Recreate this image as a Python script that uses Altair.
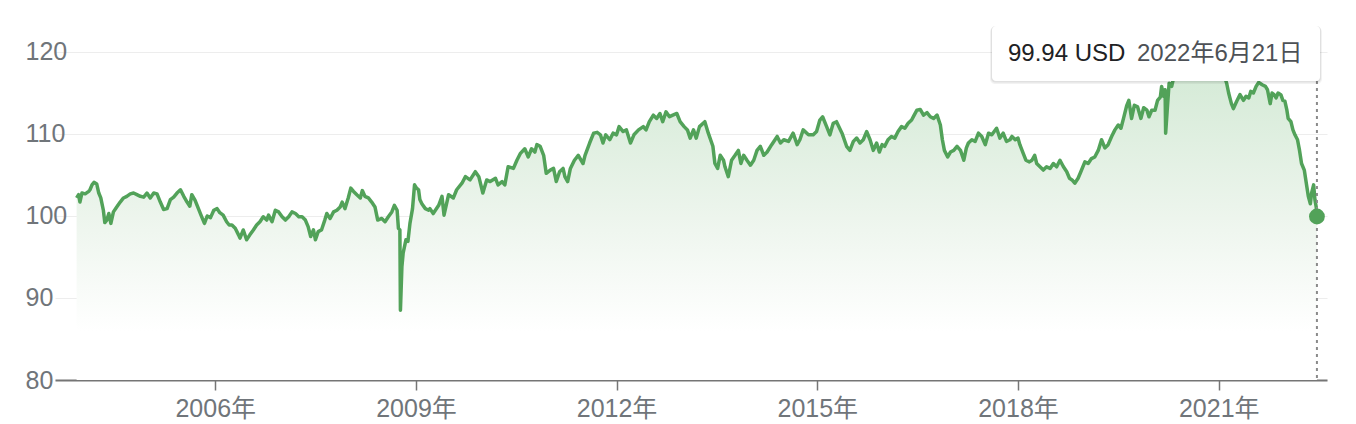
import altair as alt
import pandas as pd

years = [
    2003.93, 2003.96, 2003.98, 2004.01, 2004.06, 2004.11, 2004.13, 2004.16, 2004.19, 2004.23,
    2004.26, 2004.29, 2004.33, 2004.35, 2004.38, 2004.41, 2004.44, 2004.48, 2004.53, 2004.58,
    2004.63, 2004.68, 2004.73, 2004.78, 2004.83, 2004.88, 2004.93, 2004.98, 2005.03, 2005.08,
    2005.13, 2005.18, 2005.23, 2005.28, 2005.33, 2005.38, 2005.43, 2005.48, 2005.53, 2005.58,
    2005.62, 2005.65, 2005.70, 2005.75, 2005.80, 2005.84, 2005.88, 2005.93, 2005.98, 2006.03,
    2006.07, 2006.12, 2006.17, 2006.21, 2006.25, 2006.30, 2006.35, 2006.37, 2006.42, 2006.47,
    2006.52, 2006.57, 2006.62, 2006.67, 2006.72, 2006.77, 2006.80, 2006.85, 2006.90, 2006.95,
    2007.00, 2007.05, 2007.10, 2007.15, 2007.20, 2007.25, 2007.30, 2007.35, 2007.39, 2007.43,
    2007.47, 2007.50, 2007.54, 2007.59, 2007.64, 2007.67, 2007.72, 2007.77, 2007.82, 2007.87,
    2007.90, 2007.94, 2007.99, 2008.03, 2008.07, 2008.12, 2008.17, 2008.20, 2008.24, 2008.29,
    2008.34, 2008.39, 2008.43, 2008.49, 2008.54, 2008.59, 2008.64, 2008.68, 2008.72, 2008.74,
    2008.76, 2008.77, 2008.79, 2008.81, 2008.85, 2008.88, 2008.91, 2008.95, 2008.98, 2009.01,
    2009.04, 2009.06, 2009.09, 2009.14, 2009.19, 2009.21, 2009.26, 2009.34, 2009.39, 2009.42,
    2009.49, 2009.56, 2009.61, 2009.69, 2009.74, 2009.81, 2009.89, 2009.94, 2010.00, 2010.06,
    2010.11, 2010.19, 2010.23, 2010.29, 2010.33, 2010.38, 2010.46, 2010.51, 2010.56, 2010.63,
    2010.68, 2010.73, 2010.78, 2010.81, 2010.86, 2010.91, 2010.95, 2011.01, 2011.06, 2011.10,
    2011.15, 2011.20, 2011.23, 2011.27, 2011.31, 2011.37, 2011.43, 2011.50, 2011.53, 2011.60,
    2011.66, 2011.71, 2011.76, 2011.80, 2011.84, 2011.90, 2011.95, 2012.00, 2012.04, 2012.10,
    2012.15, 2012.21, 2012.26, 2012.33, 2012.40, 2012.44, 2012.49, 2012.55, 2012.60, 2012.65,
    2012.69, 2012.74, 2012.79, 2012.84, 2012.90, 2012.95, 2013.01, 2013.06, 2013.10, 2013.15,
    2013.19, 2013.24, 2013.32, 2013.37, 2013.44, 2013.47, 2013.51, 2013.55, 2013.60, 2013.62,
    2013.67, 2013.72, 2013.77, 2013.82, 2013.86, 2013.90, 2013.95, 2014.00, 2014.05, 2014.10,
    2014.15, 2014.20, 2014.25, 2014.32, 2014.40, 2014.45, 2014.50, 2014.57, 2014.64, 2014.70,
    2014.74, 2014.79, 2014.87, 2014.94, 2014.99, 2015.04, 2015.08, 2015.14, 2015.19, 2015.24,
    2015.29, 2015.37, 2015.44, 2015.49, 2015.54, 2015.59, 2015.64, 2015.69, 2015.74, 2015.79,
    2015.84, 2015.89, 2015.93, 2015.97, 2016.01, 2016.06, 2016.11, 2016.16, 2016.21, 2016.26,
    2016.31, 2016.36, 2016.41, 2016.45, 2016.49, 2016.54, 2016.59, 2016.64, 2016.69, 2016.74,
    2016.79, 2016.84, 2016.87, 2016.90, 2016.95, 2016.99, 2017.04, 2017.09, 2017.14, 2017.19,
    2017.23, 2017.26, 2017.31, 2017.36, 2017.41, 2017.46, 2017.51, 2017.56, 2017.61, 2017.68,
    2017.73, 2017.78, 2017.83, 2017.88, 2017.91, 2017.96, 2018.00, 2018.03, 2018.08, 2018.12,
    2018.17, 2018.21, 2018.25, 2018.28, 2018.33, 2018.38, 2018.43, 2018.48, 2018.53, 2018.58,
    2018.63, 2018.68, 2018.73, 2018.77, 2018.81, 2018.85, 2018.90, 2018.94, 2019.00, 2019.05,
    2019.10, 2019.15, 2019.20, 2019.25, 2019.30, 2019.35, 2019.40, 2019.45, 2019.50, 2019.54,
    2019.58, 2019.63, 2019.66, 2019.70, 2019.74, 2019.79, 2019.84, 2019.88, 2019.93, 2019.96,
    2020.00, 2020.05, 2020.09, 2020.13, 2020.15, 2020.18, 2020.20, 2020.21, 2020.24, 2020.26,
    2020.30, 2020.32, 2020.35, 2020.43, 2020.54, 2020.66, 2020.78, 2020.90, 2021.02, 2021.08,
    2021.12, 2021.15, 2021.19, 2021.22, 2021.27, 2021.32, 2021.37, 2021.41, 2021.45, 2021.48,
    2021.52, 2021.56, 2021.60, 2021.65, 2021.70, 2021.73, 2021.77, 2021.80, 2021.83, 2021.86,
    2021.89, 2021.93, 2021.96, 2021.99, 2022.02, 2022.04, 2022.08, 2022.11, 2022.14, 2022.18,
    2022.21, 2022.24, 2022.28, 2022.31, 2022.34, 2022.37, 2022.39, 2022.42, 2022.44, 2022.46,
    2022.469,
]
prices = [
    102.2, 102.6, 101.7, 102.8, 102.7, 103.0, 103.2, 103.8, 104.1, 103.9,
    102.8, 102.2, 100.7, 99.2, 99.5, 100.3, 99.1, 100.5, 101.1, 101.7,
    102.2, 102.4, 102.7, 102.8, 102.6, 102.4, 102.3, 102.8, 102.2, 102.8,
    102.7, 101.7, 100.8, 100.9, 102.0, 102.3, 102.8, 103.2, 102.4, 101.7,
    101.2, 102.6, 101.9, 100.9, 99.9, 99.1, 100.0, 99.8, 100.7, 100.9,
    100.4, 100.1, 99.3, 98.9, 98.9, 98.5, 97.7, 97.3, 98.3, 97.1,
    97.7, 98.3, 98.9, 99.3, 99.9, 99.5, 100.1, 99.3, 100.7, 100.5,
    99.9, 99.5, 99.9, 100.5, 100.3, 99.9, 99.9, 99.5, 98.7, 97.5,
    98.3, 97.1, 98.1, 98.3, 99.5, 100.3, 99.7, 100.5, 100.7, 101.1,
    101.7, 100.9, 102.2, 103.4, 103.0, 102.6, 102.2, 103.1, 102.4, 102.2,
    101.7, 101.1, 99.5, 99.7, 99.3, 99.9, 100.5, 101.3, 100.7, 98.5,
    98.3, 88.5, 93.8, 95.5, 97.1, 96.9, 99.1, 100.9, 103.8, 103.4,
    103.2, 102.0, 101.5, 100.9, 100.7, 100.9, 100.3, 101.3, 102.4, 100.1,
    102.6, 102.2, 103.2, 104.0, 104.8, 104.4, 105.4, 104.8, 102.8, 104.4,
    104.2, 104.6, 103.8, 104.2, 103.8, 106.0, 105.8, 106.8, 107.6, 108.2,
    107.2, 108.2, 107.8, 108.7, 108.5, 107.4, 105.2, 105.6, 105.8, 104.2,
    105.4, 105.8, 104.8, 104.2, 105.8, 106.8, 107.4, 106.4, 107.4, 108.9,
    110.1, 110.2, 109.9, 108.9, 109.9, 109.3, 110.1, 109.9, 110.9, 110.3,
    110.5, 108.9, 109.9, 110.5, 110.9, 110.5, 111.5, 112.3, 111.9, 112.5,
    111.5, 112.7, 112.1, 112.3, 112.5, 111.5, 110.9, 110.5, 109.5, 110.5,
    109.5, 110.9, 111.5, 110.1, 108.5, 106.4, 105.8, 107.4, 106.8, 106.0,
    104.8, 106.8, 107.4, 108.0, 106.4, 107.4, 106.8, 106.2, 106.8, 108.0,
    108.5, 107.4, 107.8, 108.7, 109.7, 108.9, 109.3, 109.1, 110.1, 108.7,
    109.3, 110.5, 109.9, 109.9, 110.3, 111.7, 112.1, 110.9, 109.9, 111.3,
    111.5, 110.1, 108.5, 108.0, 109.1, 109.5, 108.9, 109.3, 110.3, 109.3,
    108.0, 108.9, 107.8, 108.7, 108.5, 109.3, 109.7, 109.5, 110.3, 110.9,
    110.7, 111.3, 111.7, 112.3, 112.9, 113.0, 112.3, 112.6, 112.1, 111.9,
    112.3, 111.1, 109.3, 108.0, 107.2, 107.8, 108.0, 108.5, 108.0, 106.8,
    108.3, 108.9, 109.3, 109.1, 110.1, 109.7, 108.7, 110.1, 109.9, 110.7,
    109.5, 110.1, 109.1, 109.3, 109.7, 109.3, 109.5, 108.7, 107.6, 106.8,
    106.6, 106.8, 107.4, 106.4, 106.0, 105.6, 106.0, 105.8, 106.4, 106.0,
    106.8, 106.0, 105.4, 104.6, 104.4, 104.0, 104.6, 105.4, 106.6, 106.4,
    107.0, 107.2, 108.0, 109.3, 108.3, 108.7, 109.7, 110.5, 111.1, 110.7,
    111.9, 113.5, 114.1, 111.9, 113.5, 113.3, 111.9, 113.2, 112.9, 112.1,
    112.9, 112.9, 114.1, 114.5, 115.8, 114.6, 115.4, 110.1, 113.7, 116.2,
    115.8, 116.6, 117.5, 118.5, 119.2, 118.6, 119.4, 118.8, 117.8, 117.2,
    116.2, 115.0, 113.7, 113.1, 114.0, 114.8, 114.1, 114.6, 114.4, 115.2,
    115.0, 115.8, 116.3, 116.0, 115.8, 115.4, 113.7, 115.0, 114.8, 114.4,
    115.0, 114.8, 114.1, 114.0, 112.9, 111.9, 111.5, 110.5, 109.9, 109.3,
    108.0, 106.4, 105.6, 104.0, 102.4, 101.5, 102.8, 103.8, 102.0, 101.1,
    99.94,
]
y_ticks = [80, 90, 100, 110, 120]
x_tick_years = [2006, 2009, 2012, 2015, 2018, 2021]
tooltip_value = f"{prices[-1]:.2f} USD"
tooltip_date = "2022年6月21日"


def to_ts(y):
    yr = int(y)
    start = pd.Timestamp(year=yr, month=1, day=1)
    end = pd.Timestamp(year=yr + 1, month=1, day=1)
    return (start + (end - start) * (y - yr)).normalize()


df = pd.DataFrame({"date": [to_ts(y) for y in years], "price": prices})
last = df.tail(1)

GREEN = "#52a259"
FONT = "Arial, 'Liberation Sans', 'Noto Sans CJK JP', sans-serif"

x_enc = alt.X(
    "date:T",
    scale=alt.Scale(domain=[alt.DateTime(year=2003, month=8, date=10),
                            alt.DateTime(year=2022, month=8, date=15)]),
    axis=alt.Axis(
        values=[alt.DateTime(year=y, month=1, date=1) for y in x_tick_years],
        format="%Y年", title=None, grid=False,
        domainColor="#757575", domainWidth=2,
        tickColor="#757575", tickSize=10, tickWidth=1.5,
        labelFontSize=25, labelColor="#70757a", labelFont=FONT, labelPadding=6,
    ),
)
y_enc = alt.Y(
    "price:Q",
    scale=alt.Scale(domain=[80, 123.17], nice=False, zero=False),
    axis=alt.Axis(
        values=y_ticks, title=None, domain=False, ticks=False, tickSize=0,
        labelAlign="left", labelPadding=30, labelFontSize=25,
        labelColor="#70757a", labelFont=FONT, labelBaseline="middle",
        gridColor="#ededed", gridWidth=1,
    ),
)

area = alt.Chart(df).mark_area(
    color=alt.Gradient(
        gradient="linear",
        stops=[alt.GradientStop(color="#d2e9d4", offset=0),
               alt.GradientStop(color="#edf5ed", offset=0.5),
               alt.GradientStop(color="#ffffff", offset=0.85)],
        x1=1, x2=1, y1=0, y2=1,
    )
).encode(x=x_enc, y=y_enc, y2=alt.datum(80))

line = alt.Chart(df).mark_line(color=GREEN, strokeWidth=3.5, strokeJoin="round").encode(
    x="date:T", y="price:Q")

rule = alt.Chart(last).mark_rule(color="#8a8a8a", strokeDash=[3, 4], strokeWidth=2).encode(
    x="date:T", y=alt.value(55), y2=alt.value(354))

dot = alt.Chart(last).mark_point(filled=True, shape="circle", size=250, color=GREEN, opacity=1).encode(
    x="date:T", y="price:Q")

box_df = pd.DataFrame({"v": [tooltip_value], "d": [tooltip_date]})
shadow1 = alt.Chart(box_df).mark_rect(color="#000000", opacity=0.05, cornerRadius=5).encode(
    x=alt.value(935), x2=alt.value(1267), y=alt.value(1), y2=alt.value(58))
shadow2 = alt.Chart(box_df).mark_rect(color="#000000", opacity=0.07, cornerRadius=4).encode(
    x=alt.value(936), x2=alt.value(1266), y=alt.value(0), y2=alt.value(56.5))
box = alt.Chart(box_df).mark_rect(color="#ffffff", cornerRadius=4).encode(
    x=alt.value(937), x2=alt.value(1265), y=alt.value(0), y2=alt.value(55))
t1 = alt.Chart(box_df).mark_text(align="left", baseline="middle", fontSize=24, font=FONT,
                                  color="#202124").encode(
    x=alt.value(953), y=alt.value(28), text="v:N")
t2 = alt.Chart(box_df).mark_text(align="left", baseline="middle", fontSize=24, font=FONT,
                                  color="#4d5156").encode(
    x=alt.value(1082), y=alt.value(28), text="d:N")

chart = alt.layer(area, line, rule, dot, shadow1, shadow2, box, t1, t2).properties(
    width=1272, height=354,
    autosize=alt.AutoSizeParams(type="none"),
    padding={"left": 47, "top": 18, "right": 20, "bottom": 44},
    background="#ffffff",
).configure_view(stroke=None)

chart.save("out.html", embed_options={"renderer": "svg", "actions": False})
